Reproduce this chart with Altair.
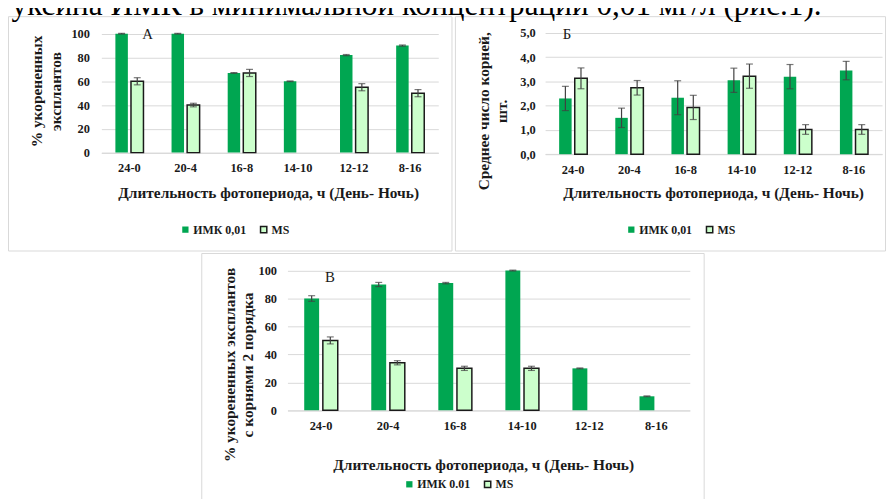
import altair as alt
import pandas as pd

# ---------------- data ----------------
cats = ["24-0", "20-4", "16-8", "14-10", "12-12", "8-16"]
series_ab = ["ИМК 0,01", "MS"]
series_c = ["ИМК 0.01", "MS"]

a_imk = [100, 100, 67, 60, 82, 90]
a_imk_err = [0.3, 0.3, 0.3, 0.3, 0.5, 0.5]
a_ms = [60, 40, 67, None, 55, 50]
a_ms_err = [3, 1.5, 3, None, 3, 3]

b_imk = [2.3, 1.5, 2.33, 3.05, 3.2, 3.45]
b_imk_err = [0.5, 0.4, 0.7, 0.5, 0.5, 0.38]
b_ms = [3.13, 2.74, 1.93, 3.22, 1.02, 1.02]
b_ms_err = [0.43, 0.3, 0.5, 0.5, 0.2, 0.2]

c_imk = [80, 90, 91, 100, 30, 10]
c_imk_err = [2, 1.5, 0.5, 0.3, 0.3, 0.3]
c_ms = [50, 34, 30, 30, None, None]
c_ms_err = [2.5, 1.5, 1.5, 1.5, None, None]

ticks_pct = [0, 20, 40, 60, 80, 100]
ticks_cnt = [0, 1, 2, 3, 4, 5]

caption = "уксина ИМК в минимальной концентрации 0,01 мг/л (рис.1)."
xtitle = "Длительность фотопериода, ч (День- Ночь)"

SERIF = "Liberation Serif"
GREEN = "#00A651"
LIGHT = "#CCFFCC"
GRID = "#D9D9D9"
TXT = "#1a1a1a"
ERR = "#404040"
W, H = 886, 491


def mk_df(imk, imk_err, ms, ms_err, series):
    rows = []
    for c, v, e in zip(cats, imk, imk_err):
        rows.append(dict(cat=c, s=series[0], v=v, lo=v - e, hi=v + e))
    for c, v, e in zip(cats, ms, ms_err):
        if v is not None:
            rows.append(dict(cat=c, s=series[1], v=v, lo=v - e, hi=v + e))
    return pd.DataFrame(rows)


def panel(df, series, xr, yr, ydom, yticks, x_off, y_off, lx, ly, ylabpad, lab_expr=None):
    xscale = alt.Scale(domain=cats, range=xr, paddingInner=0.5, paddingOuter=0.25)
    yscale = alt.Scale(domain=ydom, range=yr, nice=False, zero=True)
    oscale = alt.Scale(domain=series, paddingInner=0.2, paddingOuter=0)
    xaxis = alt.Axis(orient="bottom", offset=x_off, ticks=False, labelPadding=9,
                     labelFont=SERIF, labelFontWeight="bold", labelFontSize=12.5,
                     labelColor=TXT, domainColor=GRID, domainWidth=1, labelAngle=0,
                     grid=False, title=None)
    yargs = dict(orient="left", offset=y_off, values=yticks, ticks=False, domain=False,
                 grid=True, gridColor=GRID, gridWidth=1, labelPadding=ylabpad,
                 labelFont=SERIF, labelFontWeight="bold", labelFontSize=12.5,
                 labelColor=TXT, title=None)
    if lab_expr:
        yargs["labelExpr"] = lab_expr
    yaxis = alt.Axis(**yargs)
    leg = alt.Legend(title=None, orient="none", legendX=lx, legendY=ly,
                     direction="horizontal", symbolType="square", symbolSize=40,
                     symbolStrokeWidth=1.5, labelFont=SERIF, labelFontSize=12,
                     labelFontWeight="bold", labelColor=TXT, columnPadding=10,
                     labelOffset=2, padding=0)
    base = alt.Chart(df)
    bars = base.mark_bar(strokeWidth=1.5).encode(
        x=alt.X("cat:N", sort=cats, scale=xscale, axis=xaxis),
        y=alt.Y("v:Q", scale=yscale, axis=yaxis),
        xOffset=alt.XOffset("s:N", sort=series, scale=oscale),
        fill=alt.Fill("s:N", sort=series, scale=alt.Scale(domain=series, range=[GREEN, LIGHT]), legend=leg),
        stroke=alt.Stroke("s:N", sort=series, scale=alt.Scale(domain=series, range=["transparent", "#1a1a1a"]), legend=leg),
    )
    xe = alt.X("cat:N", sort=cats, scale=xscale)
    oe = alt.XOffset("s:N", sort=series, scale=oscale)
    rule = base.mark_rule(color=ERR, strokeWidth=1.2).encode(
        x=xe, xOffset=oe,
        y=alt.Y("lo:Q", scale=yscale), y2="hi:Q")
    tlo = base.mark_tick(color=ERR, thickness=1.2, size=7, orient="horizontal").encode(
        x=xe, xOffset=oe, y=alt.Y("lo:Q", scale=yscale))
    thi = base.mark_tick(color=ERR, thickness=1.2, size=7, orient="horizontal").encode(
        x=xe, xOffset=oe, y=alt.Y("hi:Q", scale=yscale))
    return alt.layer(bars, rule, tlo, thi)


one = pd.DataFrame({"d": [0]})


def frame(x1, y1, x2, y2):
    return alt.Chart(one).mark_rect(fill="transparent", stroke=GRID, strokeWidth=1).encode(
        x=alt.value(x1), x2=alt.value(x2), y=alt.value(y1), y2=alt.value(y2))


def txt(t, x, y, size=15.5, weight="bold", angle=0, align="center", baseline="middle", color=TXT):
    return alt.Chart(one).mark_text(text=t, font=SERIF, fontSize=size, fontWeight=weight,
                                    angle=angle, align=align, baseline=baseline, color=color).encode(
        x=alt.value(x), y=alt.value(y))


dfa = mk_df(a_imk, a_imk_err, a_ms, a_ms_err, series_ab)
dfb = mk_df(b_imk, b_imk_err, b_ms, b_ms_err, series_ab)
dfc = mk_df(c_imk, c_imk_err, c_ms, c_ms_err, series_c)

pa = panel(dfa, series_ab, [94.2, 434.2], [143.7, 23.7], [0, 100], ticks_pct,
           143.7 - H, -94.2, 173, 215, 12)
pb = panel(dfb, series_ab, [542, 882], [145.3, 23], [0, 5], ticks_cnt,
           145.3 - H, -542, 623, 215, 10,
           lab_expr="replace(format(datum.value, '.1f'), '.', ',')")
pc = panel(dfc, series_c, [282, 688], [403.7, 262.7], [0, 100], ticks_pct,
           403.7 - H, -282, 399, 472, 11)

layers = [
    frame(0.5, 6.5, 448, 243),
    frame(451.5, 6.5, 885.5, 243),
    frame(195.5, 245.5, 702.5, 500),
    txt(caption, 821, 4.5, size=31.5, weight="normal", align="right", baseline="alphabetic", color="#000000"),
    pa, pb, pc,
    # panel letters
    txt("А", 141, 24, size=15, weight="normal"),
    txt("Б", 564, 24, size=15, weight="normal"),
    txt("В", 325, 269, size=15, weight="normal"),
    # axis titles
    txt(xtitle, 263, 184),
    txt(xtitle, 712, 184),
    txt(xtitle, 480, 459),
    txt("% укорененных", 29, 82, angle=270),
    txt("эксплантов", 48, 82, angle=270),
    txt("Среднее число корней,", 480, 102, angle=270),
    txt("шт.", 499, 102, angle=270),
    txt("% укорененных эксплантов", 224, 358, angle=270),
    txt("с корнями 2 порядка", 242, 358, angle=270),
]

chart = alt.layer(*layers).resolve_scale(
    x="independent", y="independent", xOffset="independent",
    fill="independent", stroke="independent",
).properties(
    width=W, height=H, padding=0,
    autosize=alt.AutoSizeParams(type="none"),
    background="white",
).configure_view(stroke=None)

chart.save("out.html", embed_options={"renderer": "svg", "actions": False})
